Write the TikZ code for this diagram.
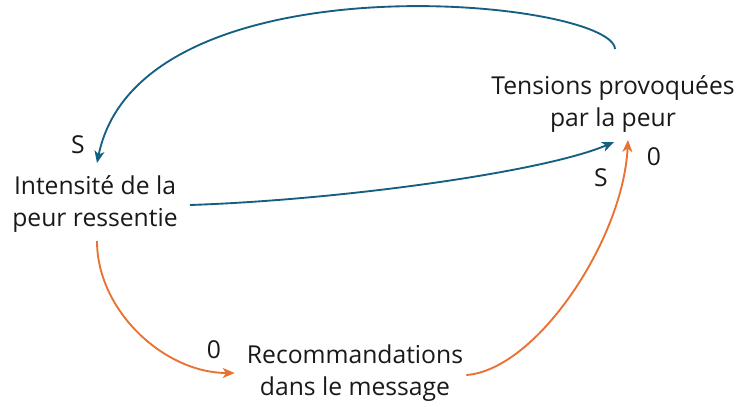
\documentclass[tikz,border=0pt]{standalone}
\usepackage{fontspec}
\setmainfont{Open Sans}
\usetikzlibrary{arrows.meta,calc}
\definecolor{lienbleu}{HTML}{156082}
\definecolor{lienorange}{HTML}{E97132}
\tikzset{
  var/.style={align=center, inner sep=0pt, text=black!90, font=\fontsize{18.5}{24.5}\selectfont},
  sgn/.style={inner sep=0pt, text=black!90, font=\fontsize{18.5}{24.5}\selectfont},
  lb/.style={-{Stealth[length=9pt,width=7.5pt,inset=2.5pt]}, line width=1.4pt, draw=lienbleu},
  lo/.style={-{Stealth[length=9pt,width=7.5pt,inset=2.5pt]}, line width=1.4pt, draw=lienorange}
}
\begin{document}
\begin{tikzpicture}[x=0.75pt,y=-0.75pt]
	\useasboundingbox (0,0) rectangle (737,406);
	\node[var] (int) at (95,204) {Intensité de la\\peur ressentie};
	\node[var] (ten) at (613,104) {Tensions provoquées\\par la peur};
	\node[var] (rec) at (355,373) {Recommandations\\dans le message};
	%
	\node[sgn] (s1) at (78,145) {S};
	\node[sgn] (s2) at (601,178) {S};
	\node[sgn] (z1) at (654,157) {0};
	\node[sgn] (z2) at (214,350) {0};
	%
	\draw[lb] ($(ten.north)+(2,-26)$) .. controls +(-3,-50) and +(43,-210) .. ($(int.north)+(2,-12)$);
	\draw[lb] ($(int.east)+(12,1)$) .. controls +(150,-5) and +(-70,30) .. ($(ten.south)+(1,9)$);
	\draw[lo] ($(int.south)+(2,8)$) .. controls +(0,70) and +(-70,0) .. ($(rec.west)+(-12,0)$);
	\draw[lo] ($(rec.east)+(3,2)$) .. controls +(70,-5) and +(-5,100) .. ($(ten.south)+(15,7)$);
\end{tikzpicture}
\end{document}
